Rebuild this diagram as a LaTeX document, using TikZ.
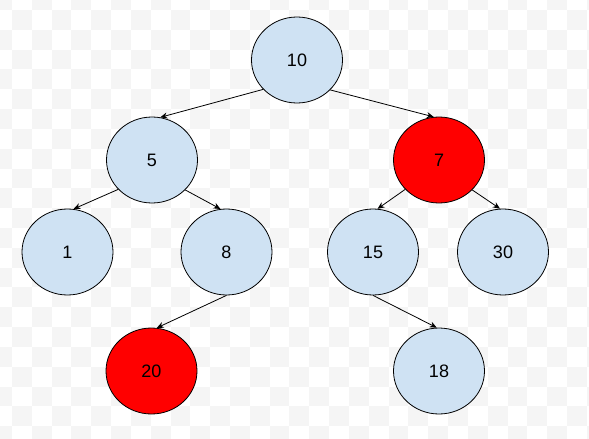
\documentclass[tikz,border=0pt]{standalone}
\usepackage{fontspec}
\setmainfont{Liberation Sans}
\usetikzlibrary{shapes.geometric,arrows.meta}
\definecolor{nodeblue}{RGB}{207,226,243}
\definecolor{checkgray}{RGB}{245,245,245}
\tikzset{
  treenode/.style={ellipse, draw, line width=0.8pt, fill=nodeblue, minimum width=91pt,
    minimum height=86pt, inner sep=0pt, font=\fontsize{18}{20}\selectfont},
  rednode/.style={treenode, fill=red},
  treeedge/.style={->, line width=0.8pt}
}
\begin{document}
\begin{tikzpicture}[>={Stealth[length=7pt, width=6pt]}, x=1pt, y=-1pt]
    % background
    \fill[white] (0,0) rectangle (589,439);
    \begin{scope}
    \clip (0,0) rectangle (589,439);
    \foreach \col in {-1,...,29} \foreach \row in {-1,...,21} {
      \pgfmathparse{int(mod(\col+\row+2,2))}
      \ifnum\pgfmathresult=0
        \fill[checkgray] ({12+\col*19.82},{10+\row*19.82}) rectangle +(19.82,19.82);
      \fi
    }
    \end{scope}
    \useasboundingbox (0,0) rectangle (589,439);

    % nodes
    \node[treenode] (n10) at (297, 60) {10};
    \node[treenode] (n5) at (152, 160) {5};
    \node[rednode] (n7) at (439, 160) {7};
    \node[treenode] (n1) at (67.5, 252) {1};
    \node[treenode] (n8) at (226.5, 252) {8};
    \node[treenode] (n15) at (373, 252) {15};
    \node[treenode] (n30) at (503, 252) {30};
    \node[rednode] (n20) at (151.5, 371) {20};
    \node[treenode] (n18) at (439, 371) {18};

    % edges
    \draw[treeedge] (n10.221) -- (n5.79);
    \draw[treeedge] (n10.318) -- (n7.97);
    \draw[treeedge] (n5.221) -- (n1.82);
    \draw[treeedge] (n5.318) -- (n8.98);
    \draw[treeedge] (n7.221) -- (n15.84);
    \draw[treeedge] (n7.318) -- (n30.94);
    \draw[treeedge] (n8.270) -- (n20.83);
    \draw[treeedge] (n15.270) -- (n18.93);
\end{tikzpicture}
\end{document}
